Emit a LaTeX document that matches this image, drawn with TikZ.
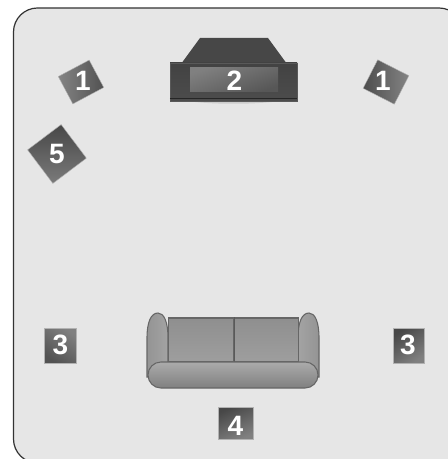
\documentclass[tikz,border=0pt]{standalone}
\usepackage{fontspec}
\setmainfont{Liberation Sans}
\usepackage{xcolor}
\usepackage{tikz}
\usetikzlibrary{positioning}
\definecolor{roomgray}{HTML}{E6E6E6}
\definecolor{wallgray}{HTML}{333333}
\definecolor{sofaline}{HTML}{666666}

\begin{document}
\begin{tikzpicture}[x=0.75pt, y=-0.75pt]
	% Styles
	\tikzstyle{speaker} = [rectangle, inner sep=0pt, minimum width=35*0.75pt, minimum height=32*0.75pt, draw=gray!60, line width=0.3pt]
	\tikzstyle{digit} = [text=white, font=\fontsize{21}{21}\selectfont\bfseries, inner sep=0pt]
	\tikzstyle{cushion} = [draw=sofaline, line width=0.8pt, rectangle, inner sep=0pt, top color=black!44, bottom color=black!38]
	\tikzstyle{arm} = [draw=sofaline, line width=0.8pt, left color=black!42, right color=black!36]
	\useasboundingbox (0,0) rectangle (448,459);

	% Room
	\draw [wallgray, fill=roomgray, line width=0.9pt, rounded corners=24*0.75pt] (13.5,8) rectangle (463,463);

	% Screen
	\fill [white!80!black] (182,100) .. controls (205,105) and (262,105) .. (285,100) -- cycle;
	\fill [black!72] (200,38) -- (268,38) -- (287,64) -- (181,64) -- cycle;
	\node (tv) [rectangle, inner sep=0pt, minimum width=127*0.75pt, minimum height=38*0.75pt, top color=black!74, bottom color=black!70, draw=black!65, line width=0.3pt] at (233.5,82) {};
	\draw [black!85, line width=0.7pt] (tv.west |- 0,98) -- (tv.east |- 0,98);
	\node (panel) [rectangle, inner sep=0pt, minimum width=88*0.75pt, minimum height=24*0.75pt, left color=black!50, right color=black!66, shading angle=20] at (234,80) {};
	\node (label2) [digit] at (234.5,80.5) {2};

	% Sofa
	\draw [arm] (147,377) -- (147,338) .. controls (147,322) and (151,313) .. (158,313) .. controls (164,313) and (168,322) .. (168,338) -- (168,377) -- cycle;
	\draw [arm, left color=black!36, right color=black!42] (298,377) -- (298,338) .. controls (298,322) and (302,313) .. (309,313) .. controls (315,313) and (319,322) .. (319,338) -- (319,377) -- cycle;
	\node (cushionl) [cushion, minimum width=65.5*0.75pt, minimum height=44*0.75pt] at (201,340) {};
	\node (cushionr) [cushion, minimum width=64.5*0.75pt, minimum height=44*0.75pt] at (266,340) {};
	\draw [black!65, line width=1pt] (cushionl.north east) -- (cushionl.south east);
	\node (seat) [cushion, minimum width=170*0.75pt, minimum height=26*0.75pt, rounded corners=9.7pt, top color=black!33, bottom color=black!50] at (233,375) {};

	% Speakers
	\node (front1) [speaker, rotate=28, left color=black!48, right color=black!68, minimum height=31*0.75pt] at (81,82) {};
	\node (front2) [speaker, rotate=-27, left color=black!70, right color=black!48] at (386,82) {};
	\node (sub) [speaker, rotate=37, top color=black!72, bottom color=black!52, minimum width=42*0.75pt, minimum height=42*0.75pt] at (57,154) {};
	\node (rear1) [speaker, minimum width=32*0.75pt, minimum height=35*0.75pt, left color=black!50, right color=black!68, shading angle=-35] at (60,345.5) {};
	\node (rear2) [speaker, minimum width=31*0.75pt, minimum height=35*0.75pt, left color=black!72, right color=black!50, shading angle=35] at (408.5,345.5) {};
	\node (center) [speaker, left color=black!72, right color=black!50, shading angle=25] at (235.5,423) {};

	% Labels
	\node (label1a) [digit] at (83,80.5) {1};
	\node (label1b) [digit] at (383,80.5) {1};
	\node (label5) [digit] at (57,154.5) {5};
	\node (label3a) [digit] at (60.5,345) {3};
	\node (label3b) [digit] at (408,345) {3};
	\node (label4) [digit] at (235.5,426) {4};
\end{tikzpicture}
\end{document}
